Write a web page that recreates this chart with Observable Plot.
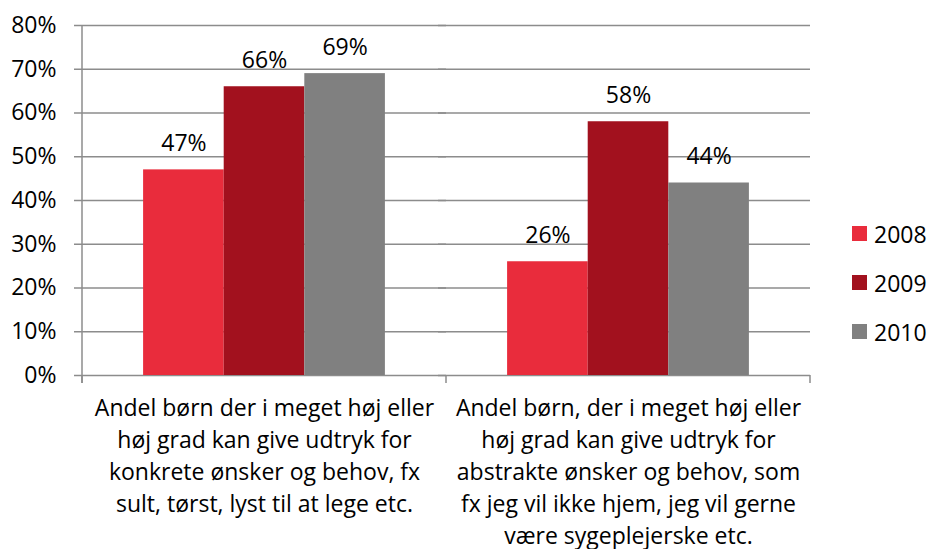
<!DOCTYPE html>
<html>
<head>
<meta charset="utf-8">
<script src="https://cdn.jsdelivr.net/npm/d3@7"></script>
<script src="https://cdn.jsdelivr.net/npm/@observablehq/plot@0.6"></script>
<style>
  html, body { margin: 0; padding: 0; background: #fff; }
  #wrap { position: relative; width: 930px; height: 549px; overflow: hidden; font-family: "Open Sans", sans-serif; }
  #legend { position: absolute; left: 852px; top: 209px; font-size: 23px; color: #000; }
  .item { display: flex; align-items: center; height: 49px; }
  .sw { width: 15px; height: 15px; margin-right: 7px; }
</style>
</head>
<body>
<div id="wrap"><div id="chart"></div><div id="legend"></div></div>
<script>
// ---- data ----
const categories = [
  "Andel børn der i meget høj eller\nhøj grad kan give udtryk for\nkonkrete ønsker og behov, fx\nsult, tørst, lyst til at lege etc.",
  "Andel børn, der i meget høj eller\nhøj grad kan give udtryk for\nabstrakte ønsker og behov, som\nfx jeg vil ikke hjem, jeg vil gerne\nvære sygeplejerske etc."
];
const years = ["2008", "2009", "2010"];
const values2008 = [0.47, 0.26];
const values2009 = [0.66, 0.58];
const values2010 = [0.69, 0.44];
const yTicks = [0, 0.1, 0.2, 0.3, 0.4, 0.5, 0.6, 0.7, 0.8];
const colors = ["#E92C3C", "#A2111E", "#808080"];

const series = [values2008, values2009, values2010];
const data = [];
categories.forEach((c, i) => years.forEach((y, j) => data.push({cat: c, year: y, value: series[j][i]})));

const grid = "#8c8c8c";
const fmt = d3.format(".0%");
const FS = 23;

const plot = Plot.plot({
  width: 930,
  height: 549,
  marginLeft: 82,
  marginRight: 120,
  marginTop: 25,
  marginBottom: 174,
  style: {fontFamily: "'Open Sans', sans-serif", fontSize: FS + "px", color: "#000", background: "#fff"},
  fx: {domain: categories, padding: 0, round: false, label: null},
  x: {domain: years, paddingInner: 0, paddingOuter: 0.758, round: false, axis: null},
  y: {domain: [0, 0.8], axis: null},
  color: {domain: years, range: colors},
  marks: [
    Plot.ruleY(yTicks, {y: d => d, stroke: grid, strokeWidth: 1.5, insetLeft: -8}),
    Plot.barY(data, {fx: "cat", x: "year", y: "value", fill: "year"}),
    Plot.text(data, {fx: "cat", x: "year", y: "value", text: d => fmt(d.value), lineAnchor: "bottom", dy: -19, fontSize: FS, fill: "#000"}),
    Plot.axisY({ticks: yTicks, tickFormat: fmt, tickSize: 0, tickPadding: 26, label: null, fontSize: FS, fill: "#000"}),
    Plot.axisFx({anchor: "bottom", tickSize: 0, tickPadding: 17.5, lineHeight: 1.39, fontSize: FS, label: null, fill: "#000"})
  ]
});
document.getElementById("chart").appendChild(plot);

// axis lines drawn from the plot's own scales
const fx = plot.scale("fx"), ys = plot.scale("y");
const svg = d3.select(plot);
const y0 = ys.apply(0), yTop = ys.apply(0.8);
const left = fx.apply(categories[0]);
const edges = categories.map(c => fx.apply(c)).concat([fx.apply(categories[categories.length - 1]) + fx.bandwidth]);
const g = svg.append("g").attr("stroke", grid).attr("stroke-width", 1.5);
g.append("line").attr("x1", left).attr("x2", left).attr("y1", yTop).attr("y2", y0 + 8);
edges.forEach(x => g.append("line").attr("x1", x).attr("x2", x).attr("y1", y0).attr("y2", y0 + 8));

// legend
const leg = d3.select("#legend");
years.forEach((y, i) => {
  const it = leg.append("div").attr("class", "item");
  it.append("div").attr("class", "sw").style("background", plot.scale("color").apply(y));
  it.append("span").text(y);
});
</script>
</body>
</html>
